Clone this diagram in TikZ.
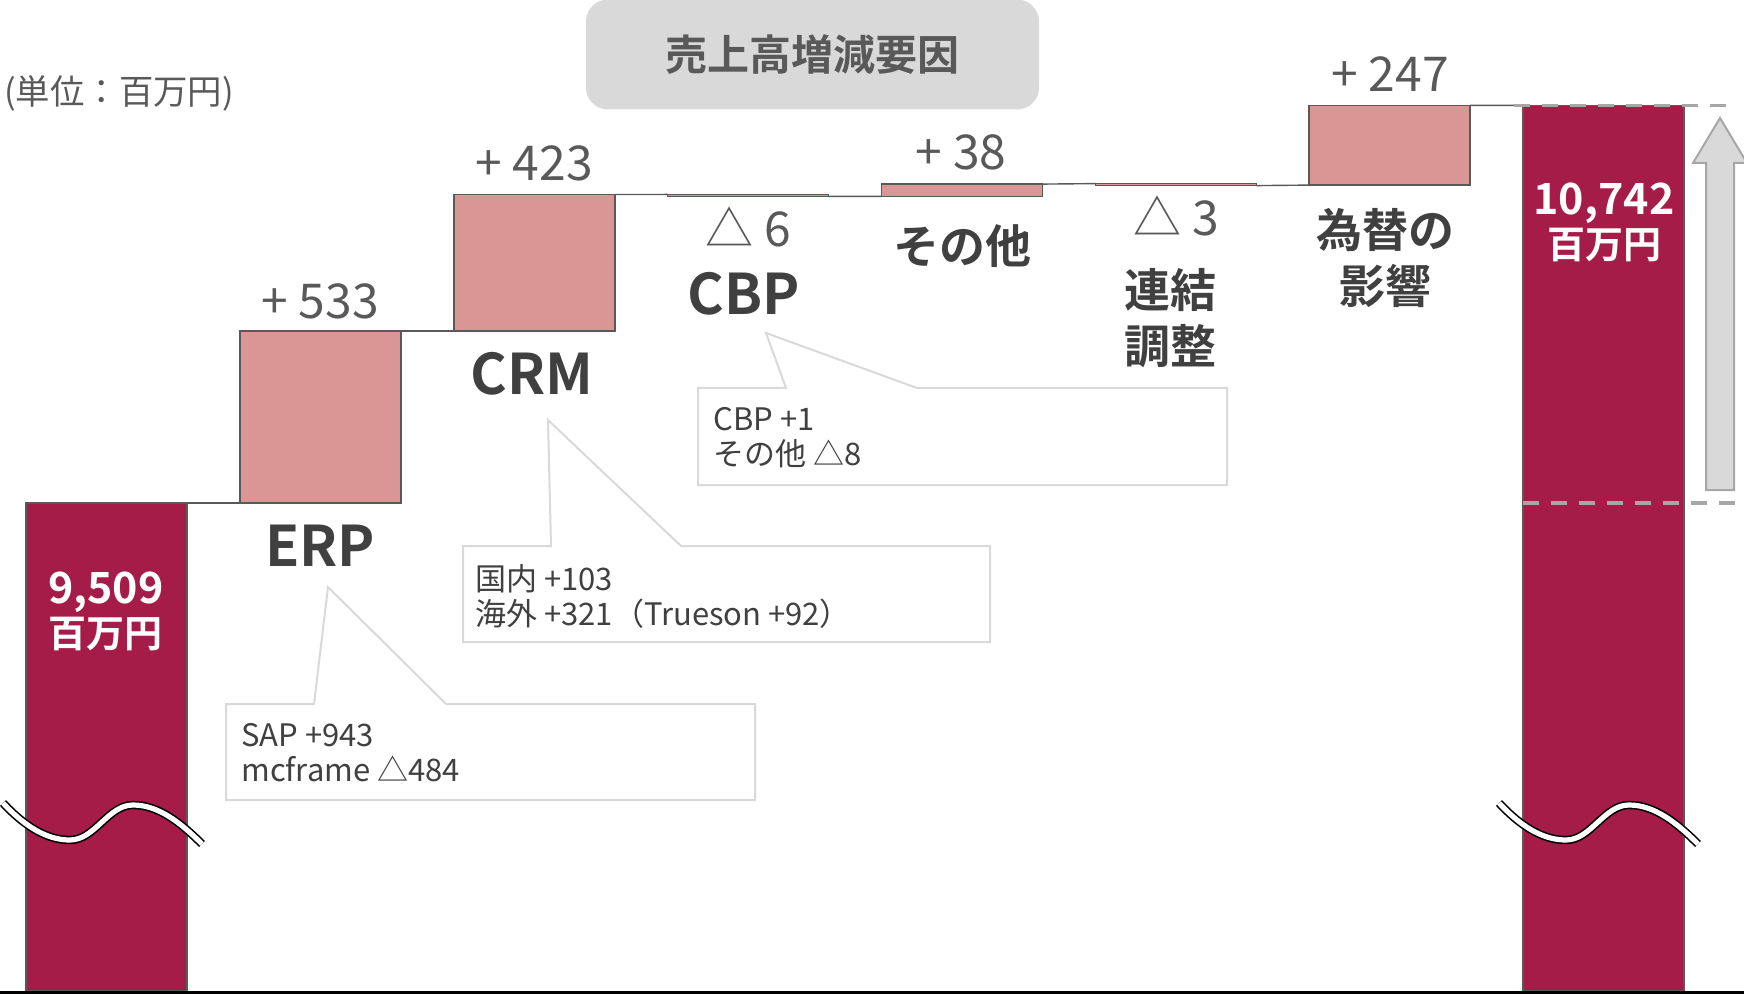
\documentclass[tikz,border=0pt]{standalone}
\usepackage{fontspec}
\setmainfont{Noto Sans CJK JP}[BoldFont={Noto Sans CJK JP Bold}]
\usetikzlibrary{fit}
\definecolor{barred}{HTML}{A61C49}
\definecolor{pinkbox}{HTML}{D99694}
\definecolor{edgegrey}{HTML}{595959}
\definecolor{valgrey}{HTML}{595959}
\definecolor{darktext}{HTML}{404040}
\definecolor{calloutedge}{HTML}{D9D9D9}
\definecolor{titlefill}{HTML}{D9D9D9}
\definecolor{dashgrey}{HTML}{A6A6A6}
\begin{document}
\begin{tikzpicture}[x=0.5pt,y=-0.5pt,
  totalbar/.style={fill=barred, draw=edgegrey, line width=0.6pt, inner sep=0pt, outer sep=0pt},
  stepbar/.style={fill=pinkbox, draw=edgegrey, line width=0.7pt, inner sep=0pt, outer sep=0pt},
  link/.style={draw=edgegrey, line width=0.7pt},
  vallabel/.style={text=valgrey, font=\fontsize{24pt}{28pt}\selectfont, inner sep=0pt},
  catlabel/.style={text=darktext, font=\bfseries\fontsize{28pt}{32pt}\selectfont, inner sep=0pt},
  catjp/.style={text=darktext, font=\bfseries\fontsize{23pt}{28pt}\selectfont, inner sep=0pt, align=center},
  totlabel/.style={text=white, font=\bfseries\fontsize{20pt}{22pt}\selectfont, inner sep=0pt, align=center},
  callout/.style={fill=white, draw=calloutedge, line width=1pt},
  callouttext/.style={text=darktext, font=\fontsize{15.5pt}{17.5pt}\selectfont, inner sep=0pt, align=left, anchor=west},
  guide/.style={draw=dashgrey, line width=1.8pt, dash pattern=on 8pt off 6pt},
  titlebox/.style={fill=titlefill, rounded corners=11pt, minimum width=226.5pt, minimum height=55pt, text=valgrey, font=\bfseries\fontsize{21pt}{24pt}\selectfont},
  blockarrow/.style={fill=titlefill, draw=dashgrey, line width=1pt},
  breakmark/.style={draw=white, line width=2.6pt, preaction={draw=black, line width=4.2pt}},
]
\useasboundingbox (0,0) rectangle (1744,994);

% title and unit
\node[titlebox] (title) at (812.5,54.5) {売上高増減要因};
\node[text=valgrey, font=\fontsize{17.2pt}{19pt}\selectfont, inner sep=0pt] (unit) at (119,93) {(単位：百万円)};

% bars
\node[totalbar, fit={(26,503) (187,991)}] (b0) {};
\node[stepbar, fit={(240,331) (401,503)}] (e1) {};
\node[stepbar, fit={(454,194.5) (615,331)}] (e2) {};
\node[stepbar, fit={(667.5,194.5) (828.5,196.4)}] (e3) {};
\node[stepbar, fit={(881.5,184.1) (1042.5,196.4)}] (e4) {};
\node[stepbar, fit={(1095.5,184.1) (1256.5,185.1)}] (e5) {};
\node[stepbar, fit={(1309,105.4) (1470,185.1)}] (e6) {};
\node[totalbar, fit={(1523,105.4) (1684,991)}] (b7) {};

% connectors
\draw[link] (b0.north east) -- (e1.south west);
\draw[link] (e1.north east) -- (e2.south west);
\draw[link] (e2.north east) -- (e3.north west);
\draw[link] (e3.south east) -- (e4.south west);
\draw[link] (e4.north east) -- (e5.north west);
\draw[link] (e5.south east) -- (e6.south west);
\draw[link] (e6.north east) -- (b7.north west);

% dashed guides
\coordinate (g1a) at (1514,105.4);
\coordinate (g1b) at (1728,105.4);
\coordinate (g2a) at (1523,503);
\coordinate (g2b) at (1737,503);
\draw[guide] (g1a) -- (g1b);
\draw[guide] (g2a) -- (g2b);

% up arrow
\draw[blockarrow] (1706,490) -- (1706,163) -- (1693,163) -- (1720,118) -- (1747,163) -- (1734,163) -- (1734,490) -- cycle;

% axis line
\draw[black, line width=1.5pt] (0,992.5) -- (1744,992.5);

% break marks
\foreach \dx in {0,1496} {
  \draw[breakmark, shift={(\dx,0)}] (3,803) .. controls (30,832) and (52,840) .. (70,840)
    .. controls (95,840) and (108,805) .. (133,805)
    .. controls (158,805) and (180,822) .. (202,844);
}

% value labels
\node[vallabel] (v1) at (320,301) {+ 533};
\node[vallabel] (v2) at (534,163) {+ 423};
\node[vallabel] (v3) at (748,227) {△ 6};
\node[vallabel] (v4) at (961,152) {+ 38};
\node[vallabel] (v5) at (1176,216) {△ 3};
\node[vallabel] (v6) at (1390,74) {+ 247};

% category labels
\node[catlabel] (lerp) at (320,546) {ERP};
\node[catlabel] (lcrm) at (532,374) {CRM};
\node[catlabel] (lcbp) at (744,294) {CBP};
\node[catjp] (loth) at (962,246) {その他};
\node[catjp] (lcon) at (1170,318) {連結\\調整};
\node[catjp] (lfx) at (1385,258) {為替の\\影響};

% totals
\node[totlabel] (t0) at (106,611) {{\fontsize{21.5pt}{22pt}\selectfont 9,509}\\{\fontsize{19pt}{22pt}\selectfont 百万円}};
\node[totlabel] (t7) at (1604,222) {{\fontsize{21.5pt}{22pt}\selectfont 10,742}\\{\fontsize{19pt}{22pt}\selectfont 百万円}};

% callouts
\draw[callout] (226,704) -- (314,704) -- (328,587) -- (446,704) -- (755,704) -- (755,800) -- (226,800) -- cycle;
\node[callouttext] (c1) at (241,753) {SAP +943\\mcframe △484};
\draw[callout] (463,546) -- (551,546) -- (548,420) -- (681,546) -- (990,546) -- (990,642) -- (463,642) -- cycle;
\node[callouttext] (c2) at (475,596) {国内 +103\\海外 +321（Trueson +92）};
\draw[callout] (698,388) -- (786,388) -- (766,333) -- (917,388) -- (1227,388) -- (1227,485) -- (698,485) -- cycle;
\node[callouttext] (c3) at (713,438) {CBP +1\\その他 △8};
\end{tikzpicture}
\end{document}
